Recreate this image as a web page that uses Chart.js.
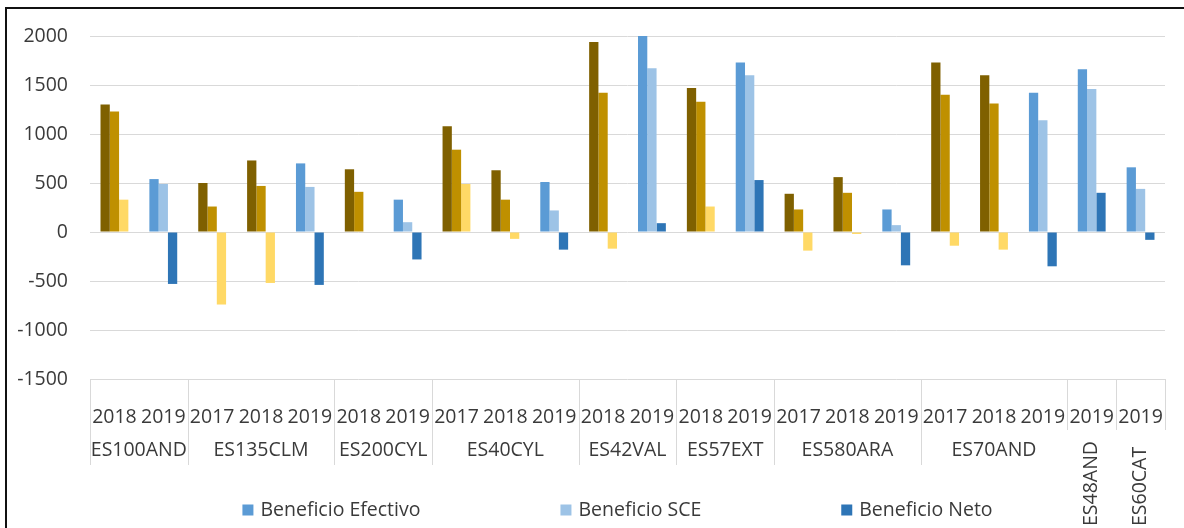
<!DOCTYPE html>
<html>
<head>
<meta charset="utf-8">
<script src="https://cdn.jsdelivr.net/npm/chart.js@4"></script>
<style>
  html, body { margin: 0; padding: 0; background: #fff; overflow: hidden; }
  #wrap { position: relative; width: 1184px; height: 528px; }
  #frame { position: absolute; left: 5px; top: 7px; right: -10px; bottom: -10px; border: 2px solid #111; pointer-events: none; }
</style>
</head>
<body>
<div id="wrap">
  <canvas id="chart"></canvas>
  <div id="frame"></div>
</div>
<script>
var years = ['2018', '2019', '2017', '2018', '2019', '2018', '2019', '2017', '2018', '2019', '2018',
             '2019', '2018', '2019', '2017', '2018', '2019', '2017', '2018', '2019', '2019', '2019'];
var regions = ['ES100AND', 'ES135CLM', 'ES200CYL', 'ES40CYL', 'ES42VAL', 'ES57EXT', 'ES580ARA', 'ES70AND', 'ES48AND', 'ES60CAT'];
var regionSizes = [2, 3, 2, 3, 2, 2, 3, 3, 1, 1];

var efectivo = [1300, 540, 500, 730, 700, 640, 330, 1080, 630, 510, 1940, 2000, 1470, 1730, 390, 560, 230, 1730, 1600, 1420, 1660, 660];
var sce = [1230, 490, 260, 470, 460, 410, 100, 840, 330, 220, 1420, 1670, 1330, 1600, 230, 400, 70, 1400, 1310, 1140, 1460, 440];
var neto = [330, -530, -740, -520, -540, null, -280, 490, -70, -180, -170, 90, 260, 530, -190, -20, -340, -140, -180, -350, 400, -80];

// 2019 columns in blue, earlier years in gold tones
function colorsFor(blue, gold) {
    return years.map(function (y) { return y === '2019' ? blue : gold; });
}

var textColor = '#3A3A3A';
Chart.defaults.font.family = 'Open Sans';
Chart.defaults.font.size = 19.5;
Chart.defaults.color = textColor;

var groupAxis = {
    id: 'groupAxis',
    afterDraw: function (chart) {
        var ctx = chart.ctx;
        var x = chart.scales.x;
        var top = x.top;
        var half = (x.getPixelForValue(1) - x.getPixelForValue(0)) / 2;
        ctx.save();
        ctx.strokeStyle = '#D9D9D9';
        ctx.lineWidth = 1;
        ctx.fillStyle = textColor;
        ctx.font = '19.5px "Open Sans"';
        var start = 0;
        var bounds = [0];
        regions.forEach(function (name, g) {
            var n = regionSizes[g];
            var left = x.getPixelForValue(start) - half;
            var right = x.getPixelForValue(start + n - 1) + half;
            var cx = (left + right) / 2;
            if (n === 1) {
                ctx.save();
                ctx.translate(cx, top + 147);
                ctx.rotate(-Math.PI / 2);
                ctx.textAlign = 'left';
                ctx.textBaseline = 'middle';
                ctx.fillText(name, 0, 0);
                ctx.restore();
            } else {
                ctx.textAlign = 'center';
                ctx.textBaseline = 'middle';
                ctx.fillText(name, cx, top + 71);
            }
            start += n;
            bounds.push(start);
        });
        bounds.forEach(function (b) {
            var px = Math.round(x.getPixelForValue(Math.min(b, years.length - 1)) + (b >= years.length ? half : -half)) + 0.5;
            var bottom = b >= years.length - 2 ? top + 51 : top + 86;
            ctx.beginPath();
            ctx.moveTo(px, top);
            ctx.lineTo(px, bottom);
            ctx.stroke();
        });
        ctx.restore();
    }
};

var bottomLegend = {
    id: 'bottomLegend',
    afterDraw: function (chart) {
        var ctx = chart.ctx;
        var sets = chart.data.datasets;
        var box = 11, gapText = 7, gapItem = 140;
        ctx.save();
        ctx.font = '19.5px "Open Sans"';
        ctx.textBaseline = 'middle';
        ctx.textAlign = 'left';
        var widths = sets.map(function (d) { return box + gapText + ctx.measureText(d.label).width; });
        var total = widths.reduce(function (a, b) { return a + b; }, 0) + gapItem * (sets.length - 1);
        var cx = (chart.chartArea.left + chart.chartArea.right) / 2 - 10;
        var xPos = cx - total / 2;
        var y = 510;
        sets.forEach(function (d, i) {
            ctx.fillStyle = d.legendColor;
            ctx.fillRect(xPos, y - box / 2, box, box);
            ctx.fillStyle = textColor;
            ctx.fillText(d.label, xPos + box + gapText, y);
            xPos += widths[i] + gapItem;
        });
        ctx.restore();
    }
};

var ctx = document.getElementById('chart').getContext('2d');
var chart = new Chart(ctx, {
    type: 'bar',
    data: {
        labels: years,
        datasets: [
            { label: 'Beneficio Efectivo', data: efectivo, backgroundColor: colorsFor('#5B9BD5', '#7F6000'), legendColor: '#5B9BD5' },
            { label: 'Beneficio SCE', data: sce, backgroundColor: colorsFor('#9DC3E6', '#BF9000'), legendColor: '#9DC3E6' },
            { label: 'Beneficio Neto', data: neto, backgroundColor: colorsFor('#2E75B6', '#FFD966'), legendColor: '#2E75B6' }
        ]
    },
    options: {
        responsive: true,
        maintainAspectRatio: false,
        animation: false,
        layout: { padding: { top: 36, right: 19, left: 0, bottom: 0 } },
        datasets: {
            bar: { categoryPercentage: 0.57, barPercentage: 1.0 }
        },
        plugins: {
            legend: { display: false },
            tooltip: { enabled: false }
        },
        scales: {
            x: {
                grid: { display: false },
                border: { display: false },
                ticks: { autoSkip: false, maxRotation: 0, padding: 19, color: textColor },
                afterFit: function (s) { s.height = 149; }
            },
            y: {
                min: -1500,
                max: 2000,
                grid: { color: '#D9D9D9', drawTicks: false },
                border: { display: false },
                ticks: {
                    stepSize: 500,
                    padding: 22,
                    color: textColor,
                    callback: function (v) { return String(v); }
                },
                afterFit: function (s) { s.width = 90; }
            }
        }
    },
    plugins: [groupAxis, bottomLegend]
});
</script>
</body>
</html>
